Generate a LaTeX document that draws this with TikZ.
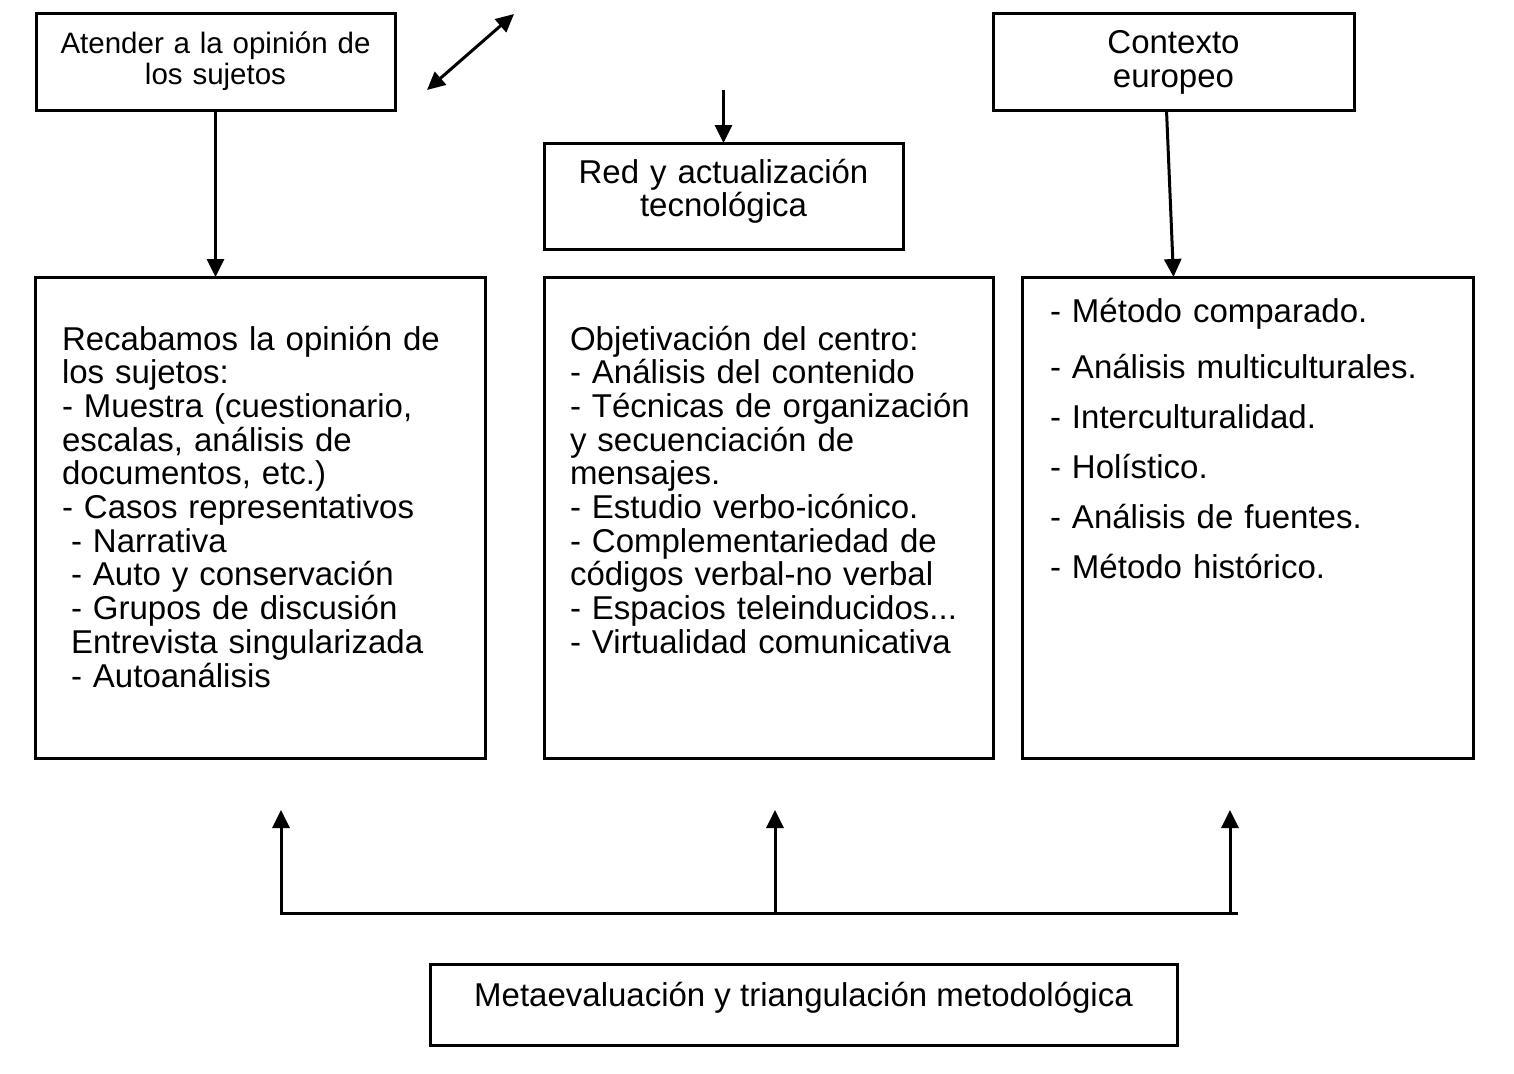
\documentclass[tikz,border=0pt]{standalone}
\usepackage{fontspec}
\setmainfont{Liberation Sans}
\usetikzlibrary{arrows.meta,calc}
\begin{document}
\begin{tikzpicture}[x=1pt,y=-1pt,
  box/.style={draw, line width=3pt, inner sep=0pt, outer sep=0pt, rectangle},
  conn/.style={line width=3pt, -{Triangle[length=18pt,width=17pt]}},
  dconn/.style={line width=3pt, {Triangle[length=18pt,width=17pt]}-{Triangle[length=18pt,width=17pt]}},
  plain/.style={line width=3pt, line cap=rect},
  txt/.style={inner sep=0pt, outer sep=0pt, font=\fontsize{33}{33.7}\selectfont},
]
\useasboundingbox[fill=white] (0,0) rectangle (1514,1073);

% boxes
\node[box, minimum width=359pt, minimum height=96pt] (A) at (215.5,62) {};
\node[box, minimum width=361pt, minimum height=96pt] (C) at (1173.5,62) {};
\node[box, minimum width=359pt, minimum height=106pt] (R) at (723.5,196) {};
\node[box, minimum width=450pt, minimum height=481pt] (B1) at (260,517.5) {};
\node[box, minimum width=449pt, minimum height=481pt] (B2) at (768.5,517.5) {};
\node[box, minimum width=451pt, minimum height=481pt] (B3) at (1247.5,517.5) {};
\node[box, minimum width=747pt, minimum height=81pt] (M) at (803.5,1004.5) {};

% texts
\node[txt, font=\fontsize{29.5}{30}\selectfont, anchor=base, text width=350pt, align=center] (tA) at (215.5,54)
  {Atender a la opinión de\\los sujetos};
\node[txt, font=\fontsize{33}{33}\selectfont, anchor=base, text width=350pt, align=center] (tC) at (1173.5,54)
  {Contexto\\europeo};
\node[txt, font=\fontsize{33}{33}\selectfont, anchor=base, text width=350pt, align=center] (tR) at (723.5,183)
  {Red y actualización\\tecnológica};
\node[txt, anchor=base] (tM) at (803.5,1006)
  {Metaevaluación y triangulación metodológica};

\node[txt, anchor=base west, text width=425pt, align=left] (t1) at (62,350)
  {Recabamos la opinión de\\
   los sujetos:\\
   - Muestra (cuestionario,\\
   escalas, análisis de\\
   documentos, etc.)\\
   - Casos representativos\\
   \hspace*{9pt}- Narrativa\\
   \hspace*{9pt}- Auto y conservación\\
   \hspace*{9pt}- Grupos de discusión\\
   \hspace*{9pt}Entrevista singularizada\\
   \hspace*{9pt}- Autoanálisis};

\node[txt, anchor=base west, text width=425pt, align=left] (t2) at (570,350)
  {Objetivación del centro:\\
   - Análisis del contenido\\
   - Técnicas de organización\\
   y secuenciación de\\
   mensajes.\\
   - Estudio verbo-icónico.\\
   - Complementariedad de\\
   códigos verbal-no verbal\\
   - Espacios teleinducidos...\\
   - Virtualidad comunicativa};

\node[txt, font=\fontsize{33}{50}\selectfont, anchor=base west, text width=420pt, align=left] (t3) at (1050,322)
  {- Método comparado.\\[6pt]
   - Análisis multiculturales.\\
   - Interculturalidad.\\
   - Holístico.\\
   - Análisis de fuentes.\\
   - Método histórico.};

% top connectors
\draw[conn] (A.south) -- (A.south |- B1.north);
\draw[conn] ([xshift=-7pt]C.south) -- (C.south |- B3.north);
\coordinate (rtop) at (723.5,90);
\draw[conn] (rtop) -- (R.north);
\coordinate (d1) at (427,90);
\coordinate (d2) at (514,14);
\draw[dconn] (d1) -- (d2);

% bottom connectors
\coordinate (h1) at (281,913);
\coordinate (h2) at (775,913);
\coordinate (h3) at (1230,913);
\coordinate (h4) at (1236,913);
\coordinate (u1) at (281,810);
\coordinate (u2) at (775,810);
\coordinate (u3) at (1230,810);
\draw[plain] (h1) -- (h4);
\draw[conn] (h1) -- (u1);
\draw[conn] (h2) -- (u2);
\draw[conn] (h3) -- (u3);
\end{tikzpicture}
\end{document}
